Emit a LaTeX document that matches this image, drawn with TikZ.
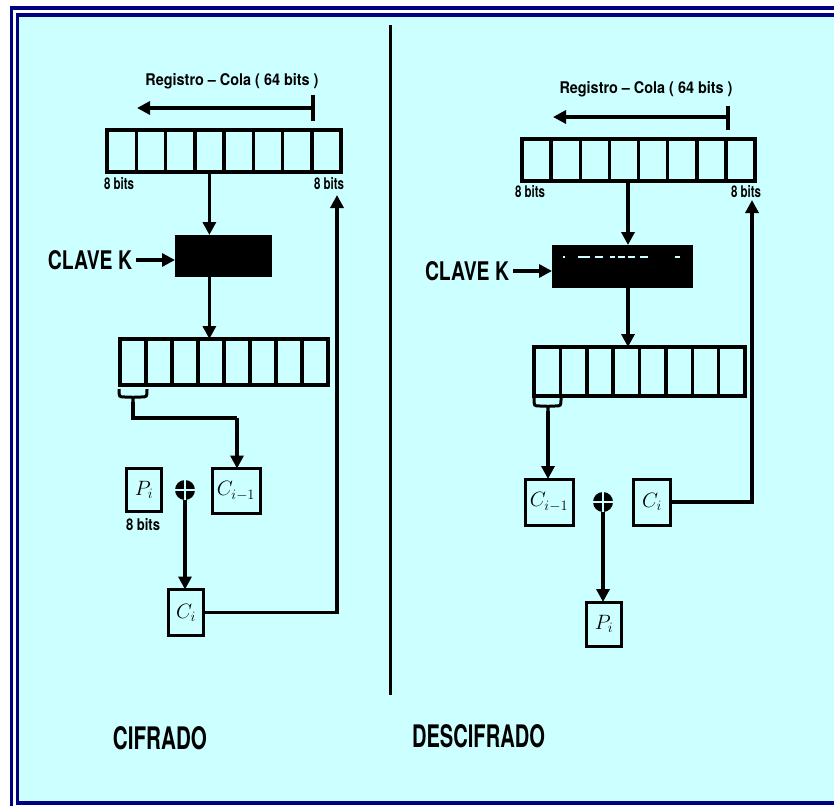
\documentclass[tikz,border=0pt]{standalone}
\usepackage{fontspec}
\setmainfont{TeX Gyre Heros}
\usepackage{graphicx}
\usetikzlibrary{arrows.meta,calc}
\definecolor{bgcyan}{HTML}{CCFFFF}
\definecolor{navy}{HTML}{000080}
\newcommand{\lbl}[3]{\resizebox{#1pt}{#2pt}{\bfseries #3}}
\begin{document}
\begin{tikzpicture}[x=1pt,y=-1pt,
  conn/.style={line width=3.5pt,-{Triangle[length=13pt,width=13pt]}},
  plain/.style={line width=3.5pt},
  regbox/.style={draw,line width=3.5pt,inner sep=0pt,outer sep=0pt,minimum width=#1},
  blk/.style={fill=black,inner sep=0pt,outer sep=0pt},
  cbox/.style={draw,line width=3pt,inner sep=0pt,outer sep=0pt,font=\fontsize{21}{23}\selectfont},
  txt/.style={inner sep=0pt,outer sep=0pt}]
\useasboundingbox (0,0) rectangle (834,805);
\clip (0,0) rectangle (834,805);
\fill[white] (0,0) rectangle (834,805);
\draw[navy,line width=3.5pt] (11.5,8) rectangle (900,900);
\fill[bgcyan] (18,17) rectangle (900,801);
\draw[navy,line width=3.5pt] (17.5,15) rectangle (880,803);

% ---------- CIFRADO (left) ----------
\node[txt] (regL) at (232,81) {\lbl{173}{12}{Registro – Cola ( 64 bits )}};
\coordinate (tickL) at (313,108);
\draw[line width=3.5pt] (313,95) -- (313,121);
\coordinate (tipL) at (137,108);
\draw[conn] (tickL) -- (tipL);

\node[regbox=234pt,minimum height=42pt] (r1L) at (224,151) {};
\foreach \i in {1,...,7}
  \draw[line width=3.5pt] ($(r1L.north west)!\i/8!(r1L.north east)$) -- ($(r1L.south west)!\i/8!(r1L.south east)$);
\node[txt] (b1L) at (119,184) {\lbl{30}{12}{8 bits}};
\node[txt] (b2L) at (329,184) {\lbl{30}{12}{8 bits}};

\node[blk,minimum width=97pt,minimum height=42pt] (kL) at (223.5,256) {};
\node[txt] (clL) at (90,260) {\lbl{84}{19}{CLAVE K}};
\coordinate (clLe) at ($(clL.east)+(4,0)$);
\draw[conn] (clLe) -- (clLe -| kL.west);

\coordinate (colL) at ($(r1L.south west)!0.4375!(r1L.south east)$);
\draw[conn] (colL) -- (colL |- kL.north);

\node[regbox=208pt,minimum height=46pt] (r2L) at (224,362) {};
\foreach \i in {1,...,7}
  \draw[line width=3.5pt] ($(r2L.north west)!\i/8!(r2L.north east)$) -- ($(r2L.south west)!\i/8!(r2L.south east)$);
\draw[conn] (colL |- kL.south) -- (colL |- r2L.north);

% brace under first cell
\draw[line width=3pt] (119,389) .. controls (119,397) .. (125,397) -- (129,397) .. controls (133,397) .. (133,402)
  (147,389) .. controls (147,397) .. (141,397) -- (137,397) .. controls (133,397) .. (133,402);
\coordinate (brL) at (133,402);

\node[cbox,minimum width=48pt,minimum height=45pt] (cprevL) at (236,491) {$C_{i-1}$};
\node[cbox,minimum width=35pt,minimum height=43pt] (pL) at (144,490) {$P_i$};
\node[txt] (b3L) at (143,525) {\lbl{34}{12}{8 bits}};
\node[circle,fill=black,inner sep=0pt,minimum size=20pt] (xorL) at (185,490) {};
\draw[bgcyan,line width=1.5pt] (xorL.north) -- (xorL.south) (xorL.west) -- (xorL.east);
\node[cbox,minimum width=35pt,minimum height=46pt] (ciL) at (186,612.5) {$C_i$};

\draw[plain] (brL) |- (237,418) coordinate (bendL);
\draw[conn] (bendL) -- (cprevL.north -| bendL);
\draw[conn] (xorL.south) -- (xorL.south |- ciL.north);
\coordinate (fbL) at (337,195);
\draw[conn] (ciL.east) -| (fbL);

% divider
\draw[line width=3pt] (390,25) coordinate (dtop) -- (390,695) coordinate (dbot);

% ---------- DESCIFRADO (right) ----------
\node[txt] (regR) at (646,89) {\lbl{173}{12}{Registro – Cola ( 64 bits )}};
\coordinate (tickR) at (728,117);
\draw[line width=3.5pt] (728,106) -- (728,130);
\coordinate (tipR) at (553,117);
\draw[conn] (tickR) -- (tipR);

\node[regbox=233pt,minimum height=42pt] (r1R) at (638.5,160) {};
\foreach \i in {1,...,7}
  \draw[line width=3.5pt] ($(r1R.north west)!\i/8!(r1R.north east)$) -- ($(r1R.south west)!\i/8!(r1R.south east)$);
\node[txt] (b1R) at (530,192) {\lbl{30}{12}{8 bits}};
\node[txt] (b2R) at (746,192) {\lbl{30}{12}{8 bits}};

\node[blk,minimum width=141pt,minimum height=43pt] (kR) at (622.5,266.5) {};
\foreach \a/\b in {563/564.5,578/590,595/603,610/615,618/625,628/635,640/648,675/680}
  \draw[bgcyan,line width=1.2pt] (\a,257) -- (\b,257);
\node[txt] (clR) at (467,271) {\lbl{84}{19}{CLAVE K}};
\coordinate (clRe) at ($(clR.east)+(4,0)$);
\draw[conn] (clRe) -- (clRe -| kR.west);

\coordinate (colR) at (628,181);
\draw[conn] (colR) -- (colR |- kR.north);

\node[regbox=211pt,minimum height=49pt] (r2R) at (639.5,371.5) {};
\foreach \i in {1,...,7}
  \draw[line width=3.5pt] ($(r2R.north west)!\i/8!(r2R.north east)$) -- ($(r2R.south west)!\i/8!(r2R.south east)$);
\draw[conn] (colR |- kR.south) -- (colR |- r2R.north);

\draw[line width=3pt] (534,398) .. controls (534,406) .. (540,406) -- (544,406) .. controls (548,406) .. (548,411)
  (561,398) .. controls (561,406) .. (555,406) -- (552,406) .. controls (548,406) .. (548,411);
\coordinate (brR) at (548,411);

\node[cbox,minimum width=48pt,minimum height=46pt] (cprevR) at (549,502) {$C_{i-1}$};
\draw[conn] (brR) -- (brR |- cprevR.north);
\node[circle,fill=black,inner sep=0pt,minimum size=20pt] (xorR) at (603,502) {};
\draw[bgcyan,line width=1.5pt] (xorR.north) -- (xorR.south) (xorR.west) -- (xorR.east);
\node[cbox,minimum width=37pt,minimum height=46pt] (ciR) at (652,502) {$C_i$};
\node[cbox,minimum width=35pt,minimum height=44pt] (pR) at (604,624) {$P_i$};
\draw[conn] (xorR.south) -- (xorR.south |- pR.north);
\coordinate (fbR) at (752,200);
\draw[conn] (ciR.east) -| (fbR);

% bottom labels
\node[txt] (cif) at (160,738.5) {\lbl{94}{23}{CIFRADO}};
\node[txt] (desc) at (478.5,736.5) {\lbl{133}{23}{DESCIFRADO}};
\end{tikzpicture}
\end{document}
